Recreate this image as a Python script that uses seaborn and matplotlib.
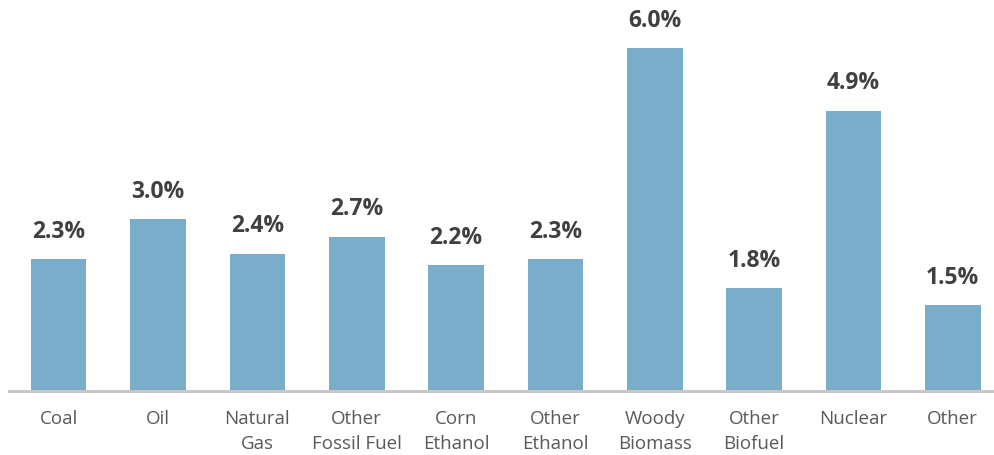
import matplotlib
matplotlib.use("Agg")
import matplotlib.pyplot as plt
import seaborn as sns
import pandas as pd

categories = ["Coal", "Oil", "Natural\nGas", "Other\nFossil Fuel", "Corn\nEthanol",
              "Other\nEthanol", "Woody\nBiomass", "Other\nBiofuel", "Nuclear", "Other"]
values = [2.3, 3.0, 2.4, 2.7, 2.2, 2.3, 6.0, 1.8, 4.9, 1.5]
value_labels = ["2.3%", "3.0%", "2.4%", "2.7%", "2.2%", "2.3%", "6.0%", "1.8%", "4.9%", "1.5%"]

sns.set_theme(style="white")
plt.rcParams["font.family"] = ["Open Sans", "DejaVu Sans"]

df = pd.DataFrame({"category": categories, "value": values})

fig = plt.figure(figsize=(9.95, 4.55), dpi=100)
ax = fig.add_axes([0.009, 1 - 391 / 455, 0.9985, 391 / 455])

sns.barplot(data=df, x="category", y="value", color="#7aadc9", width=0.56,
            saturation=1, linewidth=0, ax=ax)

ax.set_ylim(0, 391 / 57.2)
ax.set_xlim(-0.5, 9.5)
ax.set_xlabel("")
ax.set_ylabel("")
ax.set_yticks([])
for side in ["top", "right", "left"]:
    ax.spines[side].set_visible(False)
ax.spines["bottom"].set_color("#c8c8c8")
ax.spines["bottom"].set_linewidth(2.2)
ax.tick_params(axis="x", length=0, pad=14, labelsize=13.5, labelcolor="#595959")
for t in ax.get_xticklabels():
    t.set_linespacing(1.5)

for i, (v, lab) in enumerate(zip(values, value_labels)):
    ax.annotate(lab, (i, v), xytext=(0, 11), textcoords="offset points",
                ha="center", va="bottom", fontsize=16.5, fontweight="bold",
                color="#404040")

fig.savefig("out.png", dpi=100)
